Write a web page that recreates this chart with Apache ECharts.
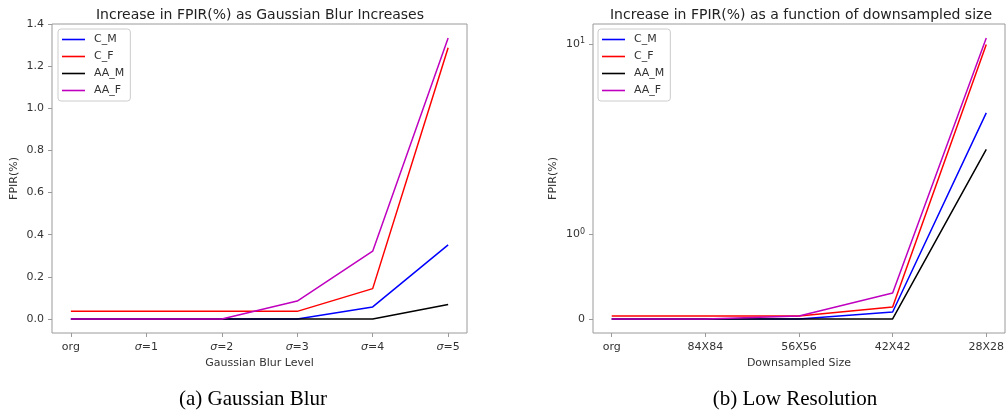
<!DOCTYPE html>
<html>
<head>
<meta charset="utf-8">
<script src="https://cdn.jsdelivr.net/npm/echarts@6/dist/echarts.min.js"></script>
<style>html,body{margin:0;padding:0;background:#fff}#c{width:1008px;height:410px}</style>
</head>
<body>
<div id="c"></div>
<script>
// ---- data ----
const seriesNames = ['C_M', 'C_F', 'AA_M', 'AA_F'];
const seriesColors = ['#0000ff', '#ff0000', '#000000', '#bf00bf'];

const blurLevels = ['org', 'σ=1', 'σ=2', 'σ=3', 'σ=4', 'σ=5'];
const blurCM  = [0, 0, 0, 0, 0.057, 0.352];
const blurCF  = [0.036, 0.036, 0.036, 0.036, 0.144, 1.288];
const blurAAM = [0, 0, 0, 0, 0, 0.069];
const blurAAF = [0, 0, 0, 0.085, 0.322, 1.334];
const blurTicks = [0, 0.2, 0.4, 0.6, 0.8, 1.0, 1.2, 1.4];

const sizes = ['org', '84X84', '56X56', '42X42', '28X28'];
const resCM  = [0, 0, 0, 0.082, 3.52];
const resCF  = [0.035, 0.035, 0.035, 0.141, 9.92];
const resAAM = [0, 0, 0, 0, 2.02];
const resAAF = [0, 0, 0.035, 0.307, 10.93];
const resTicks = [0, 1, 10];

// matplotlib symlog (base 10, linthresh 2, linscale 1)
const LT = 2, LSA = 1 / (1 - 1 / 10);
function symlog(x) {
  const a = Math.abs(x);
  if (a <= LT) return x * LSA;
  return Math.sign(x) * LT * (LSA + Math.log10(a / LT));
}

const chart = echarts.init(document.getElementById('c'));
const txt = '#333';
const spine = '#9a9a9a';
const FONT = 'DejaVu Sans';

function mkSeries(arrs, xi, yi, tf) {
  return arrs.map((arr, k) => ({
    name: seriesNames[k], type: 'line', xAxisIndex: xi, yAxisIndex: yi,
    data: arr.map((v, i) => [i, tf ? tf(v) : v]),
    showSymbol: false, symbol: 'none',
    lineStyle: { color: seriesColors[k], width: 1.5 },
    itemStyle: { color: seriesColors[k] },
    z: 2 + k
  }));
}

const blurMaxData = Math.max(...blurCM, ...blurCF, ...blurAAM, ...blurAAF);
const blurPad = blurMaxData * 0.05;
const resMaxT = symlog(Math.max(...resCM, ...resCF, ...resAAM, ...resAAF));
const resPad = resMaxT * 0.05;

const legendCommon = {
  orient: 'vertical', data: seriesNames,
  icon: 'rect', itemWidth: 23, itemHeight: 1.6, itemGap: 6,
  textStyle: { fontFamily: FONT, fontSize: 11, color: txt, padding: [0, 0, 0, 4] },
  borderColor: '#cccccc', borderWidth: 1, borderRadius: 3,
  backgroundColor: 'rgba(255,255,255,0.8)', padding: [5, 6, 5, 4],
  selectedMode: false
};

const axisNameStyle = { fontFamily: FONT, fontSize: 11, color: txt };
const tickStyle = { show: true, length: 4, inside: false, lineStyle: { color: spine } };
const noLine = { show: false, onZero: false };

chart.setOption({
  animation: false,
  title: [
    { text: 'Increase in FPIR(%) as Gaussian Blur Increases', left: 255, top: 3, textAlign: 'center',
      textStyle: { fontFamily: FONT, fontSize: 14, fontWeight: 'normal', color: '#222' } },
    { text: 'Increase in FPIR(%) as a function of downsampled size', left: 796, top: 3, textAlign: 'center',
      textStyle: { fontFamily: FONT, fontSize: 14, fontWeight: 'normal', color: '#222' } },
    { text: '(a) Gaussian Blur', left: 248, top: 384, textAlign: 'center',
      textStyle: { fontFamily: 'Liberation Serif', fontSize: 21, fontWeight: 'normal', color: '#000' } },
    { text: '(b) Low Resolution', left: 790, top: 384, textAlign: 'center',
      textStyle: { fontFamily: 'Liberation Serif', fontSize: 21, fontWeight: 'normal', color: '#000' } }
  ],
  legend: [
    Object.assign({ left: 58, top: 29 }, legendCommon),
    Object.assign({ left: 598, top: 29 }, legendCommon)
  ],
  grid: [
    { left: 52, top: 24, width: 415, height: 309, show: true, borderColor: spine, borderWidth: 1, containLabel: false },
    { left: 593, top: 24, width: 412, height: 309, show: true, borderColor: spine, borderWidth: 1, containLabel: false }
  ],
  xAxis: [
    { type: 'value', gridIndex: 0, min: -0.25, max: blurLevels.length - 1 + 0.25,
      axisLine: noLine, splitLine: { show: false },
      axisTick: Object.assign({ customValues: blurLevels.map((_, i) => i) }, tickStyle),
      axisLabel: { customValues: blurLevels.map((_, i) => i), margin: 9, fontFamily: FONT, fontSize: 11, color: txt,
        formatter: v => { const s = blurLevels[Math.round(v)]; return s.startsWith('σ') ? '{i|σ}' + s.slice(1) : s; },
        rich: { i: { fontFamily: FONT, fontStyle: 'italic', fontSize: 11, color: txt } } },
      name: 'Gaussian Blur Level', nameLocation: 'middle', nameGap: 24, nameTextStyle: axisNameStyle },
    { type: 'value', gridIndex: 1, min: -0.2, max: sizes.length - 1 + 0.2,
      axisLine: noLine, splitLine: { show: false },
      axisTick: Object.assign({ customValues: sizes.map((_, i) => i) }, tickStyle),
      axisLabel: { customValues: sizes.map((_, i) => i), margin: 9, fontFamily: FONT, fontSize: 11, color: txt,
        formatter: v => sizes[Math.round(v)] },
      name: 'Downsampled Size', nameLocation: 'middle', nameGap: 24, nameTextStyle: axisNameStyle }
  ],
  yAxis: [
    { type: 'value', gridIndex: 0, min: -blurPad, max: blurMaxData + blurPad,
      axisLine: noLine, splitLine: { show: false },
      axisTick: Object.assign({ customValues: blurTicks }, tickStyle),
      axisLabel: { customValues: blurTicks, margin: 8, fontFamily: FONT, fontSize: 11, color: txt,
        formatter: v => v.toFixed(1) },
      name: 'FPIR(%)', nameLocation: 'middle', nameGap: 32, nameRotate: 90, nameTextStyle: axisNameStyle },
    { type: 'value', gridIndex: 1, min: -resPad, max: resMaxT + resPad,
      axisLine: noLine, splitLine: { show: false },
      axisTick: Object.assign({ customValues: resTicks.map(symlog) }, tickStyle),
      axisLabel: { customValues: resTicks.map(symlog), margin: 8, fontFamily: FONT, fontSize: 11, color: txt,
        formatter: v => {
          const r = resTicks.find(t => Math.abs(symlog(t) - v) < 1e-6);
          if (r === 0) return '0';
          return '10{s|' + Math.round(Math.log10(r)) + '}';
        },
        rich: { s: { fontFamily: FONT, fontSize: 8, color: txt, verticalAlign: 'top', padding: [0, 0, 6, 0] } } },
      name: 'FPIR(%)', nameLocation: 'middle', nameGap: 34, nameRotate: 90, nameTextStyle: axisNameStyle }
  ],
  series: [
    ...mkSeries([blurCM, blurCF, blurAAM, blurAAF], 0, 0),
    ...mkSeries([resCM, resCF, resAAM, resAAF], 1, 1, symlog)
  ]
});
</script>
</body>
</html>
